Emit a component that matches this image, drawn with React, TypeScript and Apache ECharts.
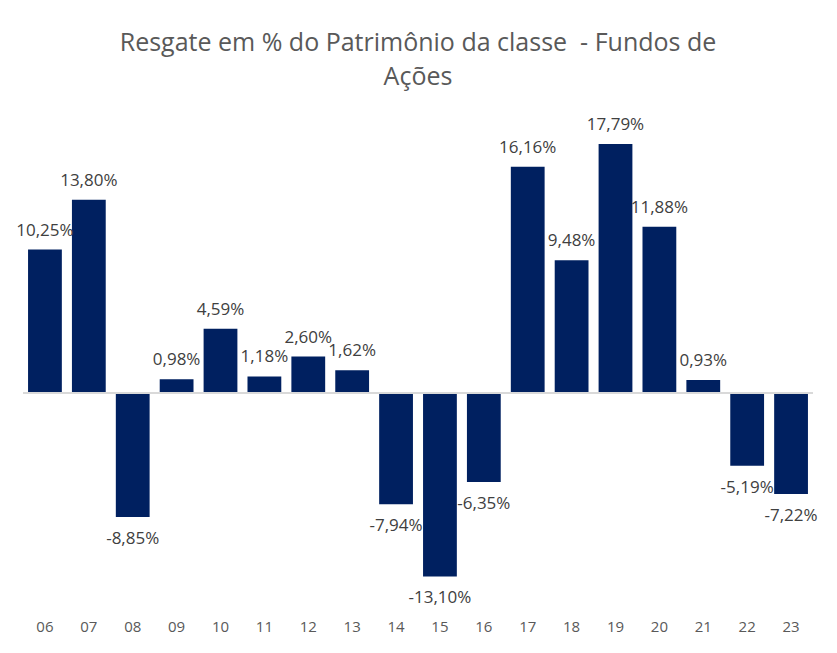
import React, { useEffect, useRef } from "react";
import * as echarts from "echarts";

const titleText = "Resgate em % do Patrimônio da classe  - Fundos de\nAções";
const categories = ["06", "07", "08", "09", "10", "11", "12", "13", "14", "15", "16", "17", "18", "19", "20", "21", "22", "23"];
const values = [10.25, 13.8, -8.85, 0.98, 4.59, 1.18, 2.6, 1.62, -7.94, -13.1, -6.35, 16.16, 9.48, 17.79, 11.88, 0.93, -5.19, -7.22];

const FONT = "'Open Sans', 'Noto Sans', sans-serif";

export default function App() {
  const ref = useRef<HTMLDivElement>(null);
  useEffect(() => {
    if (!ref.current) return;
    const chart = echarts.init(ref.current, undefined, { renderer: "svg" });
    const data = values.map((v) => ({
      value: v,
      label: { position: v < 0 ? "bottom" : "top" },
    }));
    chart.setOption({
      animation: false,
      backgroundColor: "#ffffff",
      graphic: [
        {
          type: "text",
          x: 418,
          y: 24,
          style: {
            text: titleText,
            align: "center",
            verticalAlign: "top",
            fontFamily: FONT,
            fontSize: 25,
            lineHeight: 34,
            fill: "#595959",
          },
        },
      ],
      grid: { left: 23, right: 24, top: 113, bottom: 36 },
      xAxis: {
        type: "category",
        data: categories,
        position: "bottom",
        axisLine: { show: false, onZero: false },
        axisTick: { show: false },
        axisLabel: {
          margin: 1,
          fontFamily: FONT,
          fontSize: 15,
          color: "#595959",
        },
      },
      yAxis: {
        type: "value",
        min: -16,
        max: 20,
        interval: 4,
        show: false,
        splitLine: { show: false },
      },
      series: [
        {
          type: "bar",
          data,
          barWidth: "77%",
          itemStyle: { color: "#002060" },
          label: {
            show: true,
            distance: 12,
            fontFamily: FONT,
            fontSize: 17,
            color: "#404040",
            formatter: (p: any) => p.value.toFixed(2).replace(".", ",") + "%",
          },
          markLine: {
            silent: true,
            symbol: "none",
            label: { show: false },
            lineStyle: { color: "#d9d9d9", width: 2, type: "solid" },
            data: [{ yAxis: 0 }],
          },
        },
      ],
    });
    return () => chart.dispose();
  }, []);
  return (
    <div
      ref={ref}
      style={{ position: "fixed", left: 0, top: 0, width: 837, height: 653, background: "#fff" }}
    />
  );
}
